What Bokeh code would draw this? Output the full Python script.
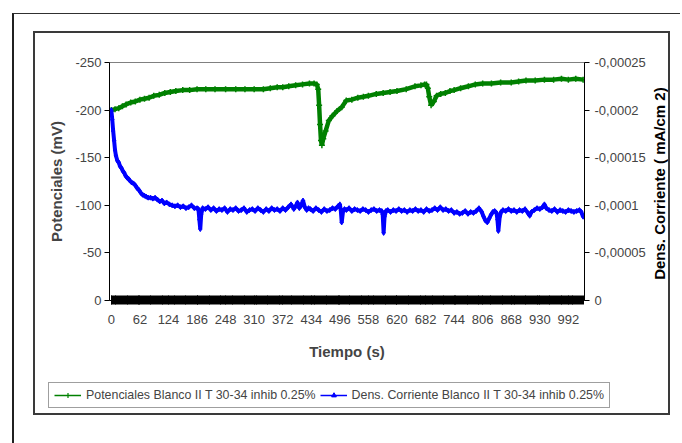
from bokeh.plotting import figure
from bokeh.layouts import column, row
from bokeh.models import (Range1d, LinearAxis, FixedTicker, CustomJSTickFormatter,
                          Legend, LegendItem, InlineStyleSheet, Label)
from bokeh.embed import file_html
from bokeh.resources import INLINE
import math

# ---- data ----
tiempo_pot = [0, 8, 16, 24, 32, 42, 52, 62, 72, 82, 92, 104, 116, 128, 140, 155, 170, 186,
              205, 225, 248, 270, 290, 310, 330, 345, 360, 372, 385, 400, 415, 430, 440,
              446, 449, 451, 453, 455, 457, 460, 465, 472, 480, 490, 500, 510, 522, 535,
              547, 558, 575, 590, 605, 620, 640, 659, 672, 680, 684, 687, 690, 694, 700,
              706, 715, 725, 735, 744, 758, 775, 790, 806, 825, 845, 868, 884, 900, 920,
              940, 960, 977, 992, 1008, 1024]
potencial = [-200, -201, -202, -204, -206, -208, -209, -211, -212, -213, -215, -216, -218,
             -219, -220, -221, -221, -222, -222, -222, -222, -222, -222, -222, -222, -223,
             -224, -224, -225, -226, -227, -228, -228, -227, -222, -205, -185, -168, -163,
             -170, -178, -189, -194, -199, -203, -210, -211, -213, -214, -215, -217, -218,
             -219, -220, -222, -225, -226, -227, -227, -223, -214, -205, -209, -215, -217,
             -218, -220, -221, -223, -225, -227, -228, -228, -229, -229, -230, -231, -231,
             -232, -232, -233, -232, -233, -232]

tiempo_dens = [0, 2, 4, 6, 8, 10, 13, 16, 19, 22, 25, 28, 31, 34, 37, 40, 44, 48, 52, 56, 60,
               64, 68, 72, 76, 80, 85, 90, 95, 100, 105, 110, 115, 120, 126, 132, 138, 144,
               150, 156, 162, 168, 174, 180, 186, 189, 191, 193, 195, 198, 204, 210, 216,
               222, 228, 234, 240, 246, 252, 258, 264, 270, 276, 282, 288, 294, 300, 306,
               312, 318, 324, 330, 336, 342, 348, 354, 360, 366, 372, 378, 384, 390, 396,
               400, 404, 408, 412, 416, 420, 424, 428, 432, 438, 444, 450, 456, 462, 468,
               474, 480, 486, 492, 496, 498, 500, 503, 506, 510, 516, 522, 528, 534, 540,
               546, 552, 558, 564, 570, 576, 582, 587, 589, 591, 593, 596, 600, 606, 612,
               618, 624, 630, 636, 642, 648, 654, 660, 666, 672, 678, 684, 690, 696, 702,
               708, 714, 720, 726, 732, 738, 744, 750, 756, 762, 768, 774, 780, 786, 792,
               798, 804, 808, 812, 816, 820, 824, 828, 832, 836, 838, 840, 843, 846, 850,
               856, 862, 868, 874, 880, 886, 892, 898, 904, 908, 912, 918, 924, 930, 936,
               940, 944, 950, 956, 962, 968, 974, 980, 986, 992, 998, 1004, 1010, 1016,
               1020, 1024]
# current density magnitude, in units of 1e-6 mA/cm2 (plotted as negative values)
dens_micro = [200, 190, 178, 168, 158, 152, 147, 145, 141, 139, 136, 134, 131, 129, 128, 126,
              124, 123, 121, 118, 116, 113, 111, 110, 109, 108, 108, 107, 108, 106, 104, 105,
              102, 103, 101, 100, 99, 100, 98, 99, 97, 98, 100, 97, 97, 96, 85, 75, 90, 97,
              96, 98, 95, 97, 94, 96, 95, 97, 93, 96, 95, 97, 94, 95, 97, 93, 95, 96, 94, 97,
              95, 93, 96, 94, 97, 95, 96, 94, 97, 95, 98, 101, 96, 99, 103, 97, 100, 105, 98,
              95, 97, 96, 94, 97, 95, 93, 96, 94, 95, 97, 96, 99, 101, 95, 82, 94, 96, 95, 97,
              94, 96, 95, 94, 96, 95, 93, 95, 96, 94, 95, 94, 90, 71, 88, 94, 95, 93, 95, 94,
              96, 94, 95, 93, 95, 94, 96, 94, 95, 93, 96, 94, 95, 97, 95, 98, 95, 96, 94, 95,
              92, 93, 91, 92, 94, 91, 93, 92, 94, 97, 93, 88, 84, 82, 86, 90, 93, 94, 92, 85,
              73, 88, 93, 95, 94, 96, 94, 95, 93, 95, 94, 96, 92, 89, 93, 95, 97, 96, 98, 101,
              97, 95, 94, 96, 93, 95, 94, 93, 95, 94, 93, 94, 95, 93, 88]
dens = [-v * 1e-6 for v in dens_micro]

x_ticks = [0, 62, 124, 186, 248, 310, 372, 434, 496, 558, 620, 682, 744, 806, 868, 930, 992]
x_minor = list(range(0, 1025, 2))
y_left_ticks = [0, -50, -100, -150, -200, -250]
y_right_ticks = [0, -0.00005, -0.0001, -0.00015, -0.0002, -0.00025]
legend_labels = ["Potenciales Blanco II T 30-34 inhib 0.25%",
                 "Dens. Corriente Blanco II T 30-34 inhib 0.25%"]
right_title = "Dens. Corriente ( mA/cm  2)"

FONT = "Liberation Sans"
GREEN = "#008000"
BLUE = "#0000FF"

frames_css = InlineStyleSheet(css="""
:host::after { content: ""; position: absolute; left: 12px; top: 13px; width: 668px; height: 430px;
  border-left: 2px solid #202020; border-top: 1.5px solid #303030; box-sizing: border-box;
  pointer-events: none; z-index: 10; }
:host::before { content: ""; position: absolute; left: 33px; top: 31px; width: 637px; height: 384px;
  border: 2px solid #3a3a3a; box-sizing: border-box; pointer-events: none; z-index: 10; }
""")

# ---- main chart ----
p = figure(width=648, height=370, output_backend="svg", toolbar_location=None,
           x_range=Range1d(-4, 1027), y_range=Range1d(0, -250),
           min_border_left=109, min_border_right=60, min_border_top=62,
           min_border_bottom=70)
p.background_fill_color = "white"
p.border_fill_color = "white"
p.outline_line_color = "#808080"
p.xgrid.visible = False
p.ygrid.visible = False

plain = CustomJSTickFormatter(code="return String(tick).replace('.', ',');")

xa = p.xaxis[0]
xa.ticker = FixedTicker(ticks=x_ticks, minor_ticks=x_minor)
xa.formatter = plain
xa.major_tick_in = 5
xa.major_tick_out = 4
xa.minor_tick_in = 5
xa.minor_tick_out = 4
xa.minor_tick_line_color = "black"
xa.major_tick_line_color = "black"
xa.axis_line_color = "black"
xa.major_label_text_font = FONT
xa.major_label_text_font_size = "13px"
xa.major_label_standoff = 10
xa.axis_label = "Tiempo (s)"
xa.axis_label_text_font = FONT
xa.axis_label_text_font_style = "bold"
xa.axis_label_text_font_size = "15px"
xa.axis_label_standoff = 16

ya = p.yaxis[0]
ya.ticker = FixedTicker(ticks=y_left_ticks)
ya.formatter = plain
ya.major_tick_in = 0
ya.major_tick_out = 5
ya.minor_tick_line_color = None
ya.axis_line_color = "black"
ya.major_label_text_font = FONT
ya.major_label_text_font_size = "13px"
ya.major_label_standoff = 3
ya.axis_label = "Potenciales (mV)"
ya.axis_label_text_font = FONT
ya.axis_label_text_font_style = "bold"
ya.axis_label_text_font_size = "15px"
ya.axis_label_standoff = 7

p.extra_y_ranges = {"dens": Range1d(0, -0.00025)}
ra = LinearAxis(y_range_name="dens", ticker=FixedTicker(ticks=y_right_ticks), formatter=plain)
ra.major_tick_in = 0
ra.major_tick_out = 5
ra.minor_tick_line_color = None
ra.axis_line_color = "black"
ra.major_label_text_font = FONT
ra.major_label_text_font_size = "13px"
ra.major_label_standoff = 5
p.add_layout(ra, "right")

p.line(tiempo_pot, potencial, color=GREEN, line_width=4.5)
p.scatter(tiempo_pot, potencial, marker="cross", size=6, color=GREEN, line_width=1.5)
p.line(tiempo_dens, dens, color=BLUE, line_width=4, y_range_name="dens")
p.scatter(tiempo_dens, dens, marker="diamond", size=5, color=BLUE, y_range_name="dens")

# ---- right axis title strip (reads bottom to top) ----
r = figure(width=32, height=370, output_backend="svg", toolbar_location=None,
           x_axis_location=None, y_axis_location=None, min_border=0,
           x_range=Range1d(0, 1), y_range=Range1d(0, 1))
r.outline_line_color = None
r.xgrid.visible = False
r.ygrid.visible = False
r.add_layout(Label(x=11, y=189, x_units="screen", y_units="screen", text=right_title,
                   angle=math.pi / 2, text_align="center", text_baseline="middle",
                   text_font=FONT, text_font_style="bold", text_font_size="15px",
                   text_color="black"))

# ---- legend strip ----
q = figure(width=680, height=73, output_backend="svg", toolbar_location=None,
           x_axis_location=None, y_axis_location=None, min_border=0,
           x_range=Range1d(0, 1), y_range=Range1d(0, 1))
q.outline_line_color = None
q.xgrid.visible = False
q.ygrid.visible = False
for f in (p, q, r):
    if "frame_align" in f.properties():
        f.frame_align = False

# legend sample glyphs (their points lie outside the strip's range, only the legend shows them)
lg1 = q.line([5, 6], [5, 6], color=GREEN, line_width=1.5)
lg1m = q.scatter([5], [5], marker="cross", size=7, color=GREEN, line_width=1.2)
lg2 = q.line([5, 6], [5, 6], color=BLUE, line_width=1.5)
lg2m = q.scatter([5], [5], marker="triangle", size=5, color=BLUE)

legend = Legend(items=[
    LegendItem(label=legend_labels[0], renderers=[lg1, lg1m]),
    LegendItem(label=legend_labels[1], renderers=[lg2, lg2m]),
], orientation="horizontal", location=(48, 35), margin=0, padding=5, spacing=4,
    glyph_width=27, glyph_height=12, label_standoff=5,
    label_text_font=FONT, label_text_font_size="12.4px",
    border_line_color="#404040", border_line_width=1,
    background_fill_color="white", background_fill_alpha=1.0)
q.add_layout(legend, "center")

layout = column(row(p, r, spacing=0), q, spacing=0, stylesheets=[frames_css])

open("out.html", "w").write(file_html(layout, INLINE))
